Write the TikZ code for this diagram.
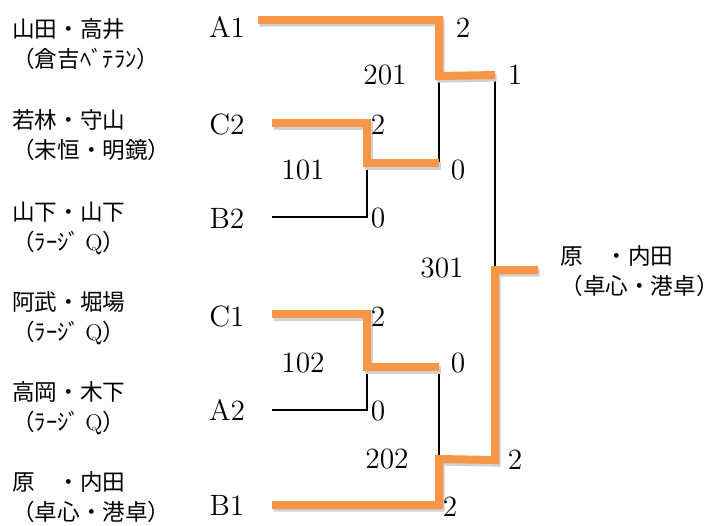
\documentclass[tikz,border=0pt]{standalone}
\usepackage{fontspec}
\usepackage{tikz}
\newfontfamily\jpfont{Noto Sans CJK JP}
\definecolor{winorange}{HTML}{F79646}
\newcommand{\winPath}{\draw[win]}
\newcommand{\losePath}{\draw[lose]}

\begin{document}
\begin{tikzpicture}[x=0.5pt,y=-0.5pt,
    team/.style={anchor=west, align=left, inner sep=0pt, font=\jpfont\fontsize{11.3pt}{15pt}\selectfont},
    seed/.style={inner sep=0pt, font=\fontsize{14.7pt}{17pt}\selectfont},
    score/.style={inner sep=0pt, font=\fontsize{14.7pt}{17pt}\selectfont},
    win/.style={draw=winorange, line width=4pt,
      preaction={draw=black!18, line width=4pt, transform canvas={shift={(0.8pt,-1.3pt)}}}},
    lose/.style={draw=black, line width=0.75pt}]

      \useasboundingbox (0,0) rectangle (714,526);

      % Teams on the left, seeds next to them
      \node[team] (t1) at (12,44)  {山田・高井\\（倉吉ﾍﾞﾃﾗﾝ）};
      \node[team] (t2) at (12,135) {若林・守山\\（末恒・明鏡）};
      \node[team] (t3) at (12,228) {山下・山下\\（ﾗｰｼﾞ {\normalfont Q}）};
      \node[team] (t4) at (12,318) {阿武・堀場\\（ﾗｰｼﾞ {\normalfont Q}）};
      \node[team] (t5) at (12,408) {高岡・木下\\（ﾗｰｼﾞ {\normalfont Q}）};
      \node[team] (t6) at (12,497) {原\quad ・内田\\（卓心・港卓）};

      \node[seed] (sA1) at (227,27)  {A1};
      \node[seed] (sC2) at (227,124) {C2};
      \node[seed] (sB2) at (227,218) {B2};
      \node[seed] (sC1) at (227,316) {C1};
      \node[seed] (sA2) at (227,410) {A2};
      \node[seed] (sB1) at (227,505) {B1};

      % Line ends and match points
      \coordinate (eA1) at (258,20);
      \coordinate (eC2) at (272,123);
      \coordinate (eB2) at (272,217);
      \coordinate (eC1) at (272,314);
      \coordinate (eA2) at (272,410);
      \coordinate (eB1) at (272,505);

      \coordinate (m101) at (367,163);
      \coordinate (m102) at (367,367);
      \coordinate (m201) at (439,76);
      \coordinate (m202) at (439,459);
      \coordinate (r101) at (439,163);
      \coordinate (r102) at (439,367);
      \coordinate (r201) at (495,75);
      \coordinate (r202) at (495,460);
      \coordinate (m301) at (495,270);
      \coordinate (champ) at (538,270);

      % Losing sides
      \losePath (eB2) -| (m101);
      \losePath (eA2) -| (m102);
      \losePath (r101) -- (m201);
      \losePath (r102) -- (m202);
      \losePath (r201) -- (m301);

      % Winning sides
      \winPath (eA1) -| (m201) -- (r201);
      \winPath (eC2) -| (m101) -- (r101);
      \winPath (eC1) -| (m102) -- (r102);
      \winPath (eB1) -| (m202) -- (r202) -- (m301) -- (champ);

      % Match numbers and scores
      \node[score] (n101) at (303,170) {101};
      \node[score] (n102) at (303,363) {102};
      \node[score] (n201) at (385,75)  {201};
      \node[score] (n202) at (387,459) {202};
      \node[score] (n301) at (442,268) {301};

      \node[score] (pA1) at (463,28)  {2};
      \node[score] (pC2) at (378,125) {2};
      \node[score] (pB2) at (378,218) {0};
      \node[score] (pC1) at (378,317) {2};
      \node[score] (pA2) at (378,411) {0};
      \node[score] (pB1) at (450,507) {2};
      \node[score] (p101) at (458,170) {0};
      \node[score] (p102) at (458,363) {0};
      \node[score] (p201) at (515,75)  {1};
      \node[score] (p202) at (515,460) {2};

      % Winner
      \node[team] (win) at (560,271) {原\quad ・内田\\（卓心・港卓）};

\end{tikzpicture}
\end{document}
